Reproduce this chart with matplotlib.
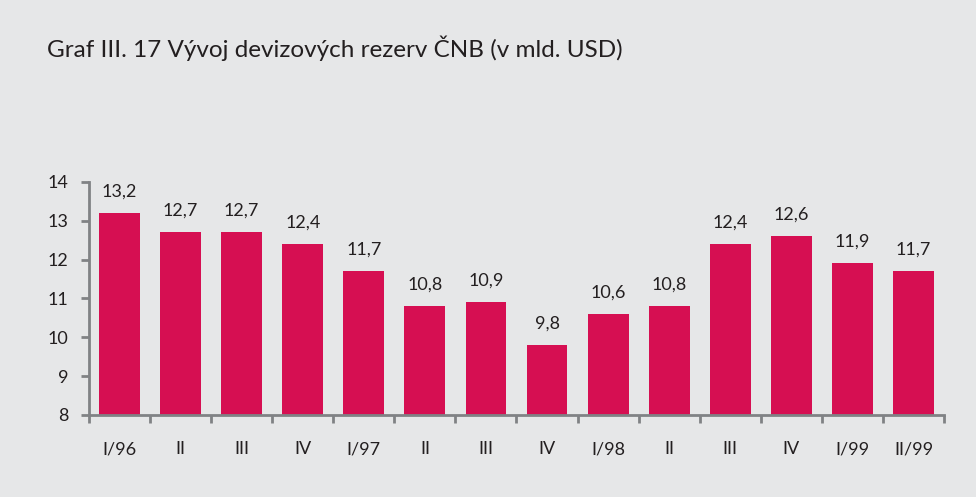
import matplotlib.pyplot as plt
import numpy as np

# quarterly FX reserves of CNB (bn USD)
quarters = ["I/96", "II", "III", "IV", "I/97", "II", "III", "IV",
            "I/98", "II", "III", "IV", "I/99", "II/99"]
reserves = [13.2, 12.7, 12.7, 12.4, 11.7, 10.8, 10.9, 9.8,
            10.6, 10.8, 12.4, 12.6, 11.9, 11.7]

bg = "#e6e7e8"
bar_color = "#d60f52"
axis_color = "#808285"
text_color = "#231f20"

plt.rcParams['font.family'] = ['Lato', 'DejaVu Sans']

fig = plt.figure(figsize=(9.76, 4.97), dpi=100, facecolor=bg)
ax = fig.add_axes([0.0912, 0.165, 0.876, 0.469], facecolor=bg)

x = np.arange(len(quarters))
ax.bar(x, reserves, width=0.67, color=bar_color, zorder=2)

for xi, v in zip(x, reserves):
    ax.text(xi, v + 0.35, f"{v:.1f}".replace(".", ","), ha="center", va="bottom",
            fontsize=13, color=text_color)

ax.set_xlim(-0.5, len(quarters) - 0.5)
ax.set_ylim(8, 14)
ax.set_yticks(range(8, 15))
ax.set_xticks(x)
ax.set_xticklabels(quarters)
ax.set_xticks(np.arange(-0.5, len(quarters), 1.0), minor=True)
ax.tick_params(axis="x", which="major", length=0, pad=19, labelsize=13, labelcolor=text_color)
ax.tick_params(axis="x", which="minor", length=6, width=2, color=axis_color, direction="out")
ax.tick_params(axis="y", length=6, width=2, color=axis_color, pad=9, labelsize=13, labelcolor=text_color)

for s in ["top", "right"]:
    ax.spines[s].set_visible(False)
for s in ["left", "bottom"]:
    ax.spines[s].set_color(axis_color)
    ax.spines[s].set_linewidth(2)

fig.text(0.048, 0.903, "Graf III. 17 Vývoj devizových rezerv ČNB (v mld. USD)",
         fontsize=17.5, color=text_color, va="center", ha="left")

fig.savefig("out.png", dpi=100, facecolor=bg)
